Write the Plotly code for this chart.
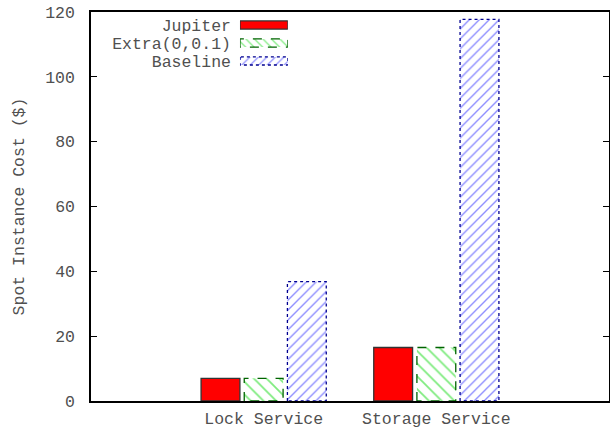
import plotly.graph_objects as go

categories = ["Lock Service", "Storage Service"]
series_names = ["Jupiter", "Extra(0,0.1)", "Baseline"]
jupiter = [7.0, 16.5]
extra = [7.0, 16.5]
baseline = [36.8, 117.7]
y_ticks = [0, 20, 40, 60, 80, 100, 120]

FONT = "Liberation Mono"
FS = 16.5
TXT = "#505050"
fills = ["#ff0000", "#ffffff", "#ffffff"]
pattern_shapes = ["", "\\", "/"]
pattern_fg = ["#ff0000", "#00d800", "#2020ff"]
pattern_size = [8, 9, 7]
edge = ["#333333", "#006400", "#000090"]
edge_dash = ["solid", "dash", "dot"]

slot = 0.25
bw = 0.225
xs = list(range(len(categories)))
series = [jupiter, extra, baseline]

fig = go.Figure()

def outline(x0, x1, y0, y1):
    return [x0, x0, x1, x1, x0], [y0, y1, y1, y0, y0]

for i, (name, vals) in enumerate(zip(series_names, series)):
    off = (i - 1) * slot
    marker = dict(color=fills[i], line=dict(width=0))
    if pattern_shapes[i]:
        marker["pattern"] = dict(shape=pattern_shapes[i], fgcolor=pattern_fg[i],
                                 bgcolor="#ffffff", size=pattern_size[i],
                                 solidity=0.2, fillmode="overlay")
    fig.add_trace(go.Bar(x=[x + off for x in xs], y=vals, width=bw, name=name,
                         marker=marker, showlegend=False))
    for x, v in zip(xs, vals):
        ox, oy = outline(x + off - bw / 2, x + off + bw / 2, 0, v)
        fig.add_trace(go.Scatter(x=ox, y=oy, mode="lines", showlegend=False,
                                 line=dict(color=edge[i], width=1.3, dash=edge_dash[i]),
                                 hoverinfo="skip"))

# custom legend: swatches on a small overlay axis, labels as its tick labels
for i, name in enumerate(series_names):
    marker = dict(color=fills[i], line=dict(width=0))
    if pattern_shapes[i]:
        marker["pattern"] = dict(shape=pattern_shapes[i], fgcolor=pattern_fg[i],
                                 bgcolor="#ffffff", size=6, solidity=0.2,
                                 fillmode="overlay")
    fig.add_trace(go.Bar(x=[1], y=[i], orientation="h", width=0.45, base=0,
                         xaxis="x2", yaxis="y2", marker=marker, showlegend=False))
    ox, oy = outline(0, 1, i - 0.225, i + 0.225)
    fig.add_trace(go.Scatter(x=ox, y=oy, mode="lines", xaxis="x2", yaxis="y2",
                             showlegend=False, hoverinfo="skip",
                             line=dict(color=edge[i], width=1.3, dash=edge_dash[i])))

fig.update_layout(
    width=610, height=428,
    margin=dict(l=91, r=1, t=12, b=27),
    paper_bgcolor="white", plot_bgcolor="white",
    barmode="overlay",
    font=dict(family=FONT, size=FS, color=TXT),
    xaxis=dict(range=[-1, 2], tickvals=xs, ticktext=categories, ticks="",
               showgrid=False, zeroline=False, showline=True, linecolor="black",
               linewidth=1.5, mirror=True, ticklabelstandoff=1, automargin=False,
               tickfont=dict(family=FONT, size=FS, color=TXT)),
    yaxis=dict(range=[0, 120], tickvals=y_ticks, ticks="inside", ticklen=6,
               tickcolor="black", showgrid=False, zeroline=False, showline=True,
               linecolor="black", linewidth=1.5, mirror="ticks",
               ticklabelstandoff=11, automargin=False,
               tickfont=dict(family=FONT, size=FS, color=TXT),
               title=dict(text="Spot Instance Cost ($)", standoff=16,
                          font=dict(family=FONT, size=FS, color=TXT))),
    xaxis2=dict(domain=[0.2876, 0.380], range=[0, 1], visible=False, anchor="y2",
                fixedrange=True),
    yaxis2=dict(domain=[0.851, 0.9897], range=[2.5, -0.5], anchor="x2",
                tickvals=[0, 1, 2], ticktext=series_names, ticks="",
                showline=False, showgrid=False, zeroline=False,
                ticklabelstandoff=8, automargin=False,
                tickfont=dict(family=FONT, size=FS, color=TXT)),
)

fig.write_html("out.html")
